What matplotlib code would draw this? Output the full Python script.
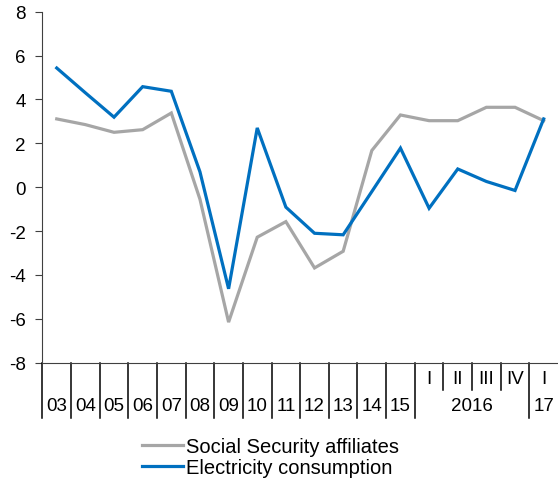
import matplotlib
matplotlib.use("Agg")
import matplotlib.pyplot as plt
import matplotlib.transforms as mtransforms

plt.rcParams['font.family'] = ['Liberation Sans', 'DejaVu Sans']
plt.rcParams['axes.unicode_minus'] = False

# categorias do eixo x
anos = ["03", "04", "05", "06", "07", "08", "09", "10", "11", "12", "13", "14", "15"]
trimestres = ["I", "II", "III", "IV", "I"]
rotulos_ano_trimestre = ["2016", "17"]

# séries
afiliados = [3.11, 2.85, 2.50, 2.62, 3.38, -0.55, -6.15, -2.28, -1.57, -3.68, -2.92, 1.67, 3.29,
             3.03, 3.03, 3.64, 3.64, 3.03]
eletricidade = [5.43, 4.30, 3.19, 4.58, 4.37, 0.70, -4.63, 2.70, -0.91, -2.10, -2.17, -0.20, 1.78,
                -0.96, 0.83, 0.26, -0.15, 3.11]

cor_cinza = "#A6A6A6"
cor_azul = "#0070C0"
cor_eixo = "#404040"
tam_fonte = 13.5

fig = plt.figure(figsize=(5.58, 4.85), dpi=100)
ax = fig.add_axes([0.076, 0.25, 0.924, 0.724])

x = list(range(len(afiliados)))
ax.plot(x, afiliados, color=cor_cinza, lw=2.3, label="Social Security affiliates", solid_joinstyle="miter")
ax.plot(x, eletricidade, color=cor_azul, lw=2.3, label="Electricity consumption", solid_joinstyle="miter")

ax.set_ylim(-8, 8)
ax.set_yticks(range(-8, 9, 2))
ax.set_xlim(-0.5, len(x) - 0.5)
ax.set_xticks([])

for lado in ["top", "right"]:
    ax.spines[lado].set_visible(False)
ax.spines["left"].set_color(cor_eixo)
ax.spines["bottom"].set_color(cor_eixo)
ax.tick_params(axis="y", direction="out", length=5, color=cor_eixo, labelsize=tam_fonte, pad=7)

# rótulos do eixo x em dois níveis
trans = mtransforms.blended_transform_factory(ax.transData, ax.transAxes)
altura_px = 0.724 * 485
def desce(px):
    return -px / altura_px

y_linha_fim = desce(55)
y_trim_fim = desce(27)
y_trim = desce(16)
y_ano = desce(43)

# separadores
n_anos = len(anos)
for i in range(len(x)):
    xs = i - 0.5
    if n_anos < i < n_anos + 4:
        fim = y_trim_fim
    else:
        fim = y_linha_fim
    ax.plot([xs, xs], [0, fim], transform=trans, color="black", lw=1.1, clip_on=False)

for i, rot in enumerate(anos):
    ax.text(i, y_ano, rot, transform=trans, ha="center", va="center", fontsize=tam_fonte)
for j, rot in enumerate(trimestres):
    ax.text(n_anos + j, y_trim, rot, transform=trans, ha="center", va="center", fontsize=tam_fonte)
ax.text(n_anos + 1.5, y_ano, rotulos_ano_trimestre[0], transform=trans, ha="center", va="center", fontsize=tam_fonte)
ax.text(n_anos + 4, y_ano, rotulos_ano_trimestre[1], transform=trans, ha="center", va="center", fontsize=tam_fonte)

fig.legend(loc="upper left", bbox_to_anchor=(0.2545, 0.097), frameon=False, fontsize=14.5,
           handlelength=2.05, handletextpad=0.12, labelspacing=0.08, borderaxespad=0, borderpad=0)

fig.savefig("out.png", dpi=100)
